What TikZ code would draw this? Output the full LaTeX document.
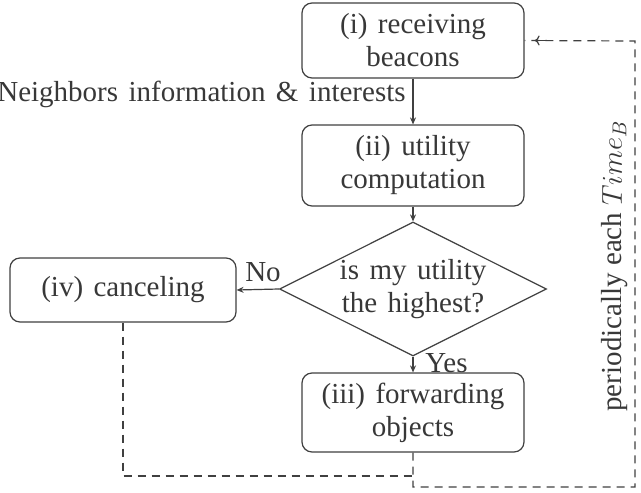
\documentclass[tikz,border=0pt]{standalone}
\usepackage{fontspec}
\setmainfont{Liberation Serif}
\usetikzlibrary{shapes.geometric,arrows.meta}
\pgfdeclarelayer{background}
\pgfsetlayers{background,main}
\newcommand\mywidesp{\spaceskip=0.36em\relax}
\newcommand\mynormsp{\spaceskip=0pt\relax}
\begin{document}
\begin{tikzpicture}[x=0.5pt,y=-0.5pt,
  every node/.style={text=black!78, font=\fontsize{14.5}{16.5}\selectfont\mywidesp},
  stepbox/.style={draw=black!75, line width=0.6pt, rounded corners=5pt, fill=white, align=center, inner sep=0pt},
  decision/.style={draw=black!75, line width=0.6pt, diamond, aspect=2, fill=white, align=center, inner sep=0pt, minimum width=133.5pt, minimum height=67pt},
  flow/.style={draw=black!75, line width=0.6pt, -{Stealth[length=3.5pt,width=3pt]}},
  feedback/.style={draw=black!75, line width=0.6pt, dash pattern=on 4pt off 3pt},
  lbl/.style={inner sep=0pt}]
\useasboundingbox (0,0) rectangle (641,492);
\node[stepbox, minimum width=111pt, minimum height=37.5pt] (n1) at (413,40.5) {(i) receiving\\beacons};
\node[stepbox, minimum width=111pt, minimum height=40.5pt] (n2) at (413,165.5) {(ii) utility\\computation};
\node[decision] (d) at (413,289) {is my utility\\the highest?};
\node[stepbox, minimum width=113pt, minimum height=32pt] (n4) at (123,290) {(iv) canceling};
\begin{pgfonlayer}{background}
\node[lbl, anchor=base west] (yes) at (425,372) {Yes};
\end{pgfonlayer}
\node[stepbox, minimum width=111pt, minimum height=39.5pt] (n3) at (413,412.5) {(iii) forwarding\\objects};
\node[lbl, anchor=base east] (nb) at (406,102) {Neighbors information \& interests};
\node[lbl, anchor=base] (no) at (263,281) {No};
\node[lbl, rotate=90] (per) at (615,266) {\mynormsp periodically each $Time_B$};
\draw[flow] (n1.south) -- (n2.north);
\draw[flow] (n2.south) -- (d.north);
\draw[flow] (d.west) -- (n4.east);
\draw[flow] (d.south) -- (n3.north);
\coordinate (j) at (413,476);
\coordinate (bl) at (413,487);
\coordinate (br) at (635,487);
\coordinate (tr) at (635,41);
\draw[feedback] (n4.south) |- (j);
\draw[feedback] (n3.south) -- (bl) -- (br) -- (tr) -- (n1.east);
\draw[feedback, solid, -{To[length=2.5pt,width=5pt]}, shorten >=5pt] ([xshift=12pt]n1.east) -- (n1.east);
\end{tikzpicture}
\end{document}
